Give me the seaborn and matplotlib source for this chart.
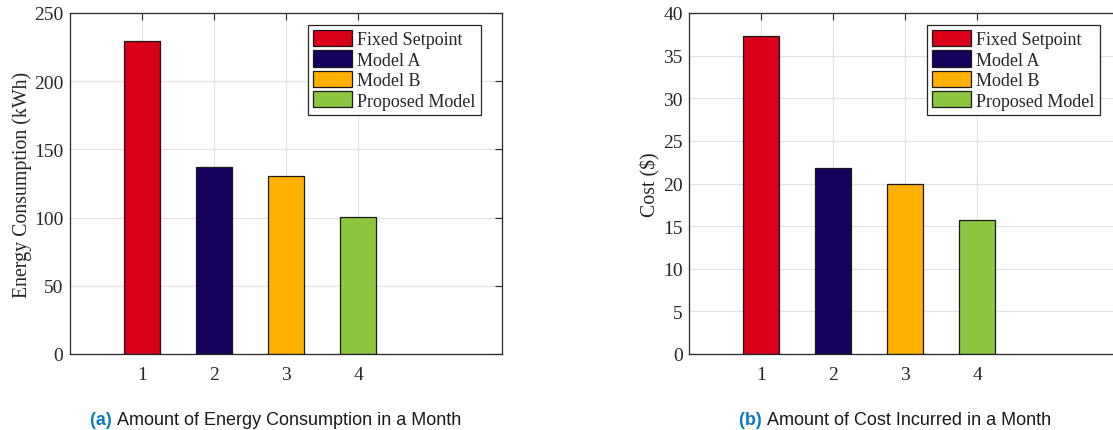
import matplotlib
matplotlib.use("Agg")
import matplotlib.pyplot as plt
import seaborn as sns
import pandas as pd

methods = ["Fixed Setpoint", "Model A", "Model B", "Proposed Model"]
positions = [1, 2, 3, 4]
energy_kwh = [229.5, 137.0, 130.3, 100.2]
cost_usd = [37.3, 21.85, 20.0, 15.75]
colors = ["#DA0019", "#16005E", "#FFB000", "#8CC63F"]
energy_yticks = [0, 50, 100, 150, 200, 250]
cost_yticks = [0, 5, 10, 15, 20, 25, 30, 35, 40]
captions = [("(a)", "Amount of Energy Consumption in a Month"),
            ("(b)", "Amount of Cost Incurred in a Month")]
ylabels = ["Energy Consumption (kWh)", "Cost ($)"]

sns.set_theme(style="white")
plt.rcParams["font.family"] = ["Liberation Serif", "DejaVu Serif"]
plt.rcParams["mathtext.fontset"] = "stix"

fig = plt.figure(figsize=(11.13, 4.31), dpi=100)
ax1 = fig.add_axes([70/1113, 1-355/431, 432/1113, 341/431])
ax2 = fig.add_axes([689.3/1113, 1-355/431, 432/1113, 341/431])

dark = "#262626"
for ax, vals, yt, yl in [(ax1, energy_kwh, energy_yticks, ylabels[0]),
                         (ax2, cost_usd, cost_yticks, ylabels[1])]:
    df = pd.DataFrame({"pos": positions, "val": vals, "method": methods})
    sns.barplot(data=df, x="pos", y="val", hue="method", hue_order=methods,
                palette=colors, native_scale=True, width=0.5, dodge=False,
                edgecolor="#1a1a1a", linewidth=0.9, ax=ax, saturation=1)
    ax.set_xlim(0, 6)
    ax.set_ylim(yt[0], yt[-1])
    ax.set_xticks(positions)
    ax.set_xticklabels([str(p) for p in positions])
    ax.set_yticks(yt)
    ax.set_yticklabels([str(v) for v in yt])
    ax.set_xlabel("")
    ax.set_ylabel(yl, fontsize=14.3, color=dark, labelpad=1.5)
    ax.grid(True, color="#e3e3e3", linewidth=0.9)
    ax.set_axisbelow(True)
    ax.tick_params(direction="in", length=5, width=0.8, colors=dark,
                   labelsize=14, top=True, right=True, pad=4.8)
    ax.tick_params(axis="x", pad=8.5)
    for s in ax.spines.values():
        s.set_visible(True)
        s.set_color(dark)
        s.set_linewidth(0.9)
    leg = ax.legend(loc="upper right", bbox_to_anchor=(0.951, 0.966),
                    fontsize=13, frameon=True, fancybox=False,
                    edgecolor=dark, framealpha=1, handlelength=2.16,
                    handleheight=1.0, labelspacing=0.12, borderpad=0.3,
                    handletextpad=0.27, borderaxespad=0)
    leg.get_frame().set_linewidth(0.9)

for (tag, text), cx in zip(captions, [276, 895]):
    t1 = fig.text(0, 0, tag + " ", fontsize=13, fontweight="bold",
                  color="#0B7BC0", family=["Liberation Sans", "DejaVu Sans"],
                  va="center")
    t2 = fig.text(0, 0, text, fontsize=13, color="#1a1a1a",
                  family=["Liberation Sans", "DejaVu Sans"], va="center")
    fig.canvas.draw()
    r = fig.canvas.get_renderer()
    w1 = t1.get_window_extent(r).width
    w2 = t2.get_window_extent(r).width
    x0 = cx - (w1 + w2) / 2
    t1.set_position((x0/1113, 1-421/431))
    t2.set_position(((x0 + w1)/1113, 1-421/431))

fig.savefig("out.png", dpi=100)
